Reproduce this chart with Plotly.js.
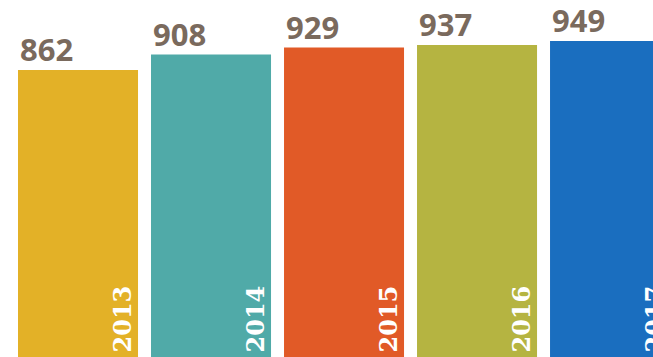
<!DOCTYPE html>
<html>
<head>
<meta charset="utf-8">
<script src="https://cdn.plot.ly/plotly-3.0.1.min.js"></script>
<style>html,body{margin:0;padding:0;background:#fff;}#chart{width:653px;height:357px;}</style>
</head>
<body>
<div id="chart"></div>
<script>
const years = ["2013", "2014", "2015", "2016", "2017"];
const values = [862, 908, 929, 937, 949];
const colors = ["#e3b127", "#50aaa8", "#e15a27", "#b5b441", "#1a6ebf"];

const idx = years.map((_, i) => i);
const trace = {
  type: "bar",
  x: idx,
  y: values,
  marker: {color: colors, line: {width: 0}},
  hoverinfo: "none"
};

const annotations = [];
years.forEach((yr, i) => {
  annotations.push({
    x: i - 0.451, y: values[i], xref: "x", yref: "y",
    xanchor: "left", yanchor: "bottom", yshift: -2,
    text: "<b>" + values[i] + "</b>", showarrow: false,
    font: {family: "Open Sans", size: 31, color: "#7a6a5d"}
  });
  annotations.push({
    x: i, y: 0, xref: "x", yref: "y",
    xanchor: "center", yanchor: "bottom", xshift: 44, yshift: 2,
    textangle: -90,
    text: "<b>" + yr + "</b>", showarrow: false,
    font: {family: "DejaVu Serif", size: 24, color: "#ffffff"}
  });
});

const layout = {
  width: 653, height: 357,
  margin: {l: 0, r: 0, t: 0, b: 0},
  paper_bgcolor: "#ffffff", plot_bgcolor: "#ffffff",
  bargap: 0.0977,
  showlegend: false,
  xaxis: {range: [-0.5865, 4.323], visible: false, fixedrange: true},
  yaxis: {range: [0, 1072], visible: false, fixedrange: true},
  annotations: annotations
};

Plotly.newPlot("chart", [trace], layout, {displayModeBar: false, staticPlot: true});
</script>
</body>
</html>
